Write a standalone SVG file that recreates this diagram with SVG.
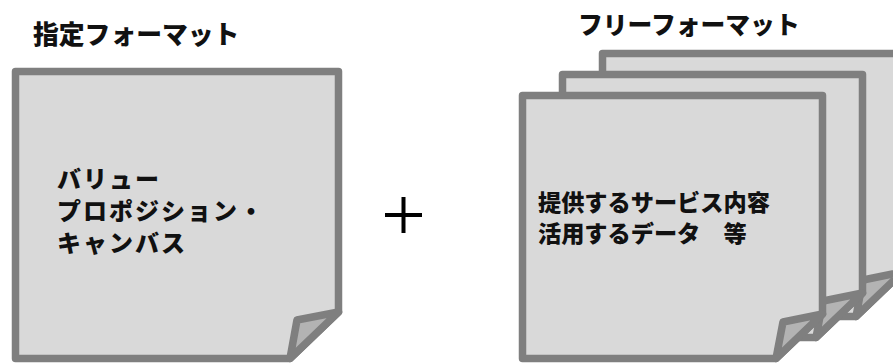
<svg xmlns="http://www.w3.org/2000/svg" width="893" height="363" viewBox="0 0 893 363">
<style>
.page{fill:#d9d9d9;stroke:#7f7f7f;stroke-width:7.5;stroke-linejoin:round}
.flap{fill:#b3b3b3;stroke:#7f7f7f;stroke-width:7.5;stroke-linejoin:round}
.t{font-family:"Noto Sans CJK JP","Noto Sans",sans-serif;font-weight:900;fill:#111}
</style>
<rect width="893" height="363" fill="#fff"/>
<g id="title-left"><text class="t" x="33" y="44" font-size="25.8">指定フォーマット</text></g>
<g id="title-right"><text class="t" x="578" y="34" font-size="24.8">フリーフォーマット</text></g>
<g id="page-left">
<path class="page" d="M15.5,71.5 H338.5 V312 L290,358.5 H15.5 Z"/>
<path class="flap" d="M338.5,312 L297,320 L290,358.5 Z"/>
<text class="t" font-size="24" letter-spacing="2" x="57" y="188">バリュー</text>
<text class="t" font-size="24" letter-spacing="2" x="57" y="220">プロポジション・</text>
<text class="t" font-size="24" letter-spacing="2" x="57" y="252">キャンバス</text>
</g>
<g id="plus"><path d="M385,215 H422 M403.5,197 V233" stroke="#000" stroke-width="4" fill="none"/></g>
<g id="page-back">
<path class="page" d="M602.5,53.5 H902.5 V272 L856,316.5 H602.5 Z"/>
<path class="flap" d="M902.5,272 L863,280 L856,316.5 Z"/>
</g>
<g id="page-middle">
<path class="page" d="M562.5,74.5 H862.5 V293 L816,337.5 H562.5 Z"/>
<path class="flap" d="M862.5,293 L823,301 L816,337.5 Z"/>
</g>
<g id="page-front">
<path class="page" d="M522.5,95.5 H822.5 V314 L776,358.5 H522.5 Z"/>
<path class="flap" d="M822.5,314 L783,322 L776,358.5 Z"/>
<text class="t" font-size="23.2" x="538" y="211">提供するサービス内容</text>
<text class="t" font-size="23.2" x="538" y="242">活用するデータ　等</text>
</g>
<g id="connectors"></g>
</svg>
